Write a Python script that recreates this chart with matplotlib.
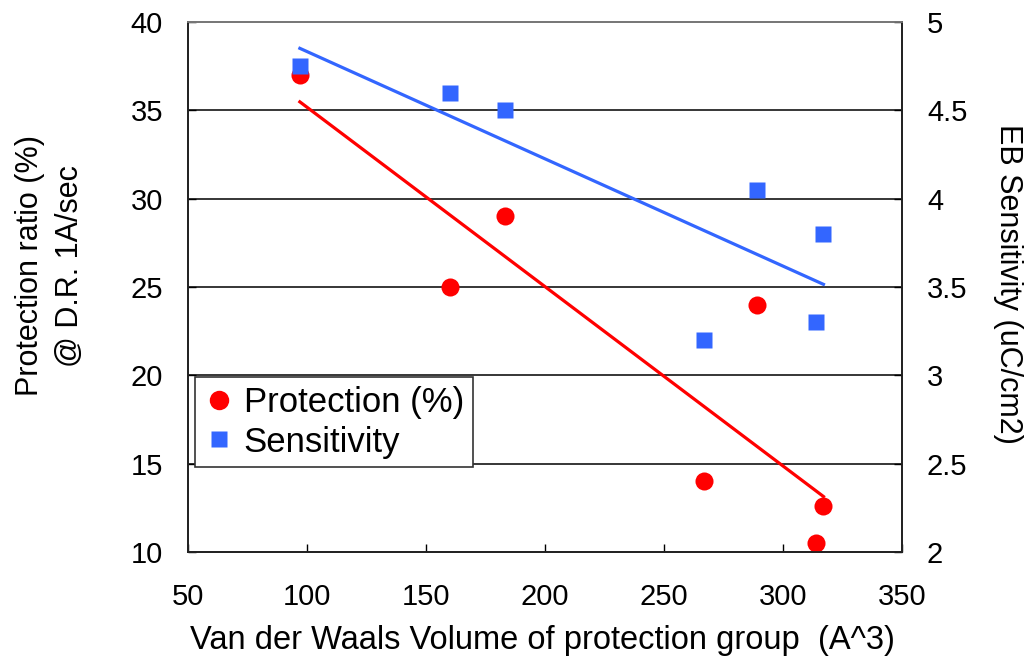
import numpy as np
import matplotlib
matplotlib.use("Agg")
import matplotlib.pyplot as plt
from matplotlib.lines import Line2D

plt.rcParams['font.family'] = ['Liberation Sans', 'DejaVu Sans']

# Van der Waals volume of protection group (A^3)
volume = [97, 160, 183, 267, 289, 314, 317]
# Protection ratio (%) @ D.R. 1A/sec
protection = [37, 25, 29, 14, 24, 10.5, 12.6]
# EB sensitivity (uC/cm2)
sensitivity = [4.75, 4.6, 4.5, 3.2, 4.05, 3.3, 3.8]

x_ticks = [50, 100, 150, 200, 250, 300, 350]
left_ticks = [10, 15, 20, 25, 30, 35, 40]
right_ticks = [2, 2.5, 3, 3.5, 4, 4.5, 5]
right_labels = ["2", "2.5", "3", "3.5", "4", "4.5", "5"]

RED = "#FF0000"
BLUE = "#3366FF"
TICK_FS = 21
LABEL_FS = 22

W, H = 1028, 666
fig = plt.figure(figsize=(W / 100, H / 100), dpi=100)
ax = fig.add_axes([188 / W, 1 - 552 / H, (902 - 188) / W, (552 - 22) / H])
ax2 = ax.twinx()

ax.set_xlim(50, 350)
ax.set_ylim(10, 40)
ax2.set_ylim(2, 5)

# horizontal gridlines on the left axis
for v in left_ticks[1:-1]:
    ax.axhline(v, color="black", lw=1.1, zorder=0)

# linear trend lines
xs = np.array([min(volume), max(volume)])
p1 = np.polyfit(volume, protection, 1)
p2 = np.polyfit(volume, sensitivity, 1)
ax.plot(xs, np.polyval(p1, xs), color=RED, lw=2.3, zorder=2)
ax2.plot(xs, np.polyval(p2, xs), color=BLUE, lw=2.3, zorder=2)

ax.plot(volume, protection, 'o', color=RED, ms=13, mec='none', zorder=3)
ax2.plot(volume, sensitivity, 's', color=BLUE, ms=12, mec='none', zorder=3)

ax.set_xticks(x_ticks)
ax.set_yticks(left_ticks)
ax2.set_yticks(right_ticks)
ax2.set_yticklabels(right_labels)

ax.tick_params(axis='both', direction='in', labelsize=TICK_FS, length=6, width=1)
ax.tick_params(axis='y', pad=18)
ax.tick_params(axis='x', pad=22)
ax2.tick_params(axis='y', direction='in', labelsize=TICK_FS, length=6, width=1, pad=18)

for a in (ax, ax2):
    for s in a.spines.values():
        s.set_linewidth(1.3)
        s.set_color("#222222")
ax.spines['top'].set_color("#777777")
ax2.spines['top'].set_color("#777777")

fig.text(542 / W, 1 - 640 / H, "Van der Waals Volume of protection group  (A^3)",
         fontsize=23.5, ha='center', va='center')
fig.text(50 / W, 1 - 266 / H, "Protection ratio (%)\n@ D.R. 1A/sec", rotation=90,
         fontsize=LABEL_FS, ha='center', va='center', multialignment='center',
         linespacing=1.45)
fig.text(1008 / W, 1 - 284 / H, "EB Sensitivity (uC/cm2)", rotation=270,
         fontsize=LABEL_FS, ha='center', va='center')

handles = [
    Line2D([], [], marker='o', ls='none', color=RED, ms=14, mec='none'),
    Line2D([], [], marker='s', ls='none', color=BLUE, ms=12, mec='none'),
]
leg = ax.legend(handles, ["Protection (%)", "Sensitivity"], loc='upper left',
                bbox_to_anchor=((195 - 188) / 714, (552 - 377) / 530),
                borderaxespad=0, fontsize=25, frameon=True, fancybox=False,
                framealpha=1, edgecolor="#333333", handletextpad=0.25,
                handlelength=0.9, borderpad=0.25, labelspacing=0.2)
leg.get_frame().set_linewidth(1.2)
leg.set_zorder(5)

fig.savefig("out.png", dpi=100)
